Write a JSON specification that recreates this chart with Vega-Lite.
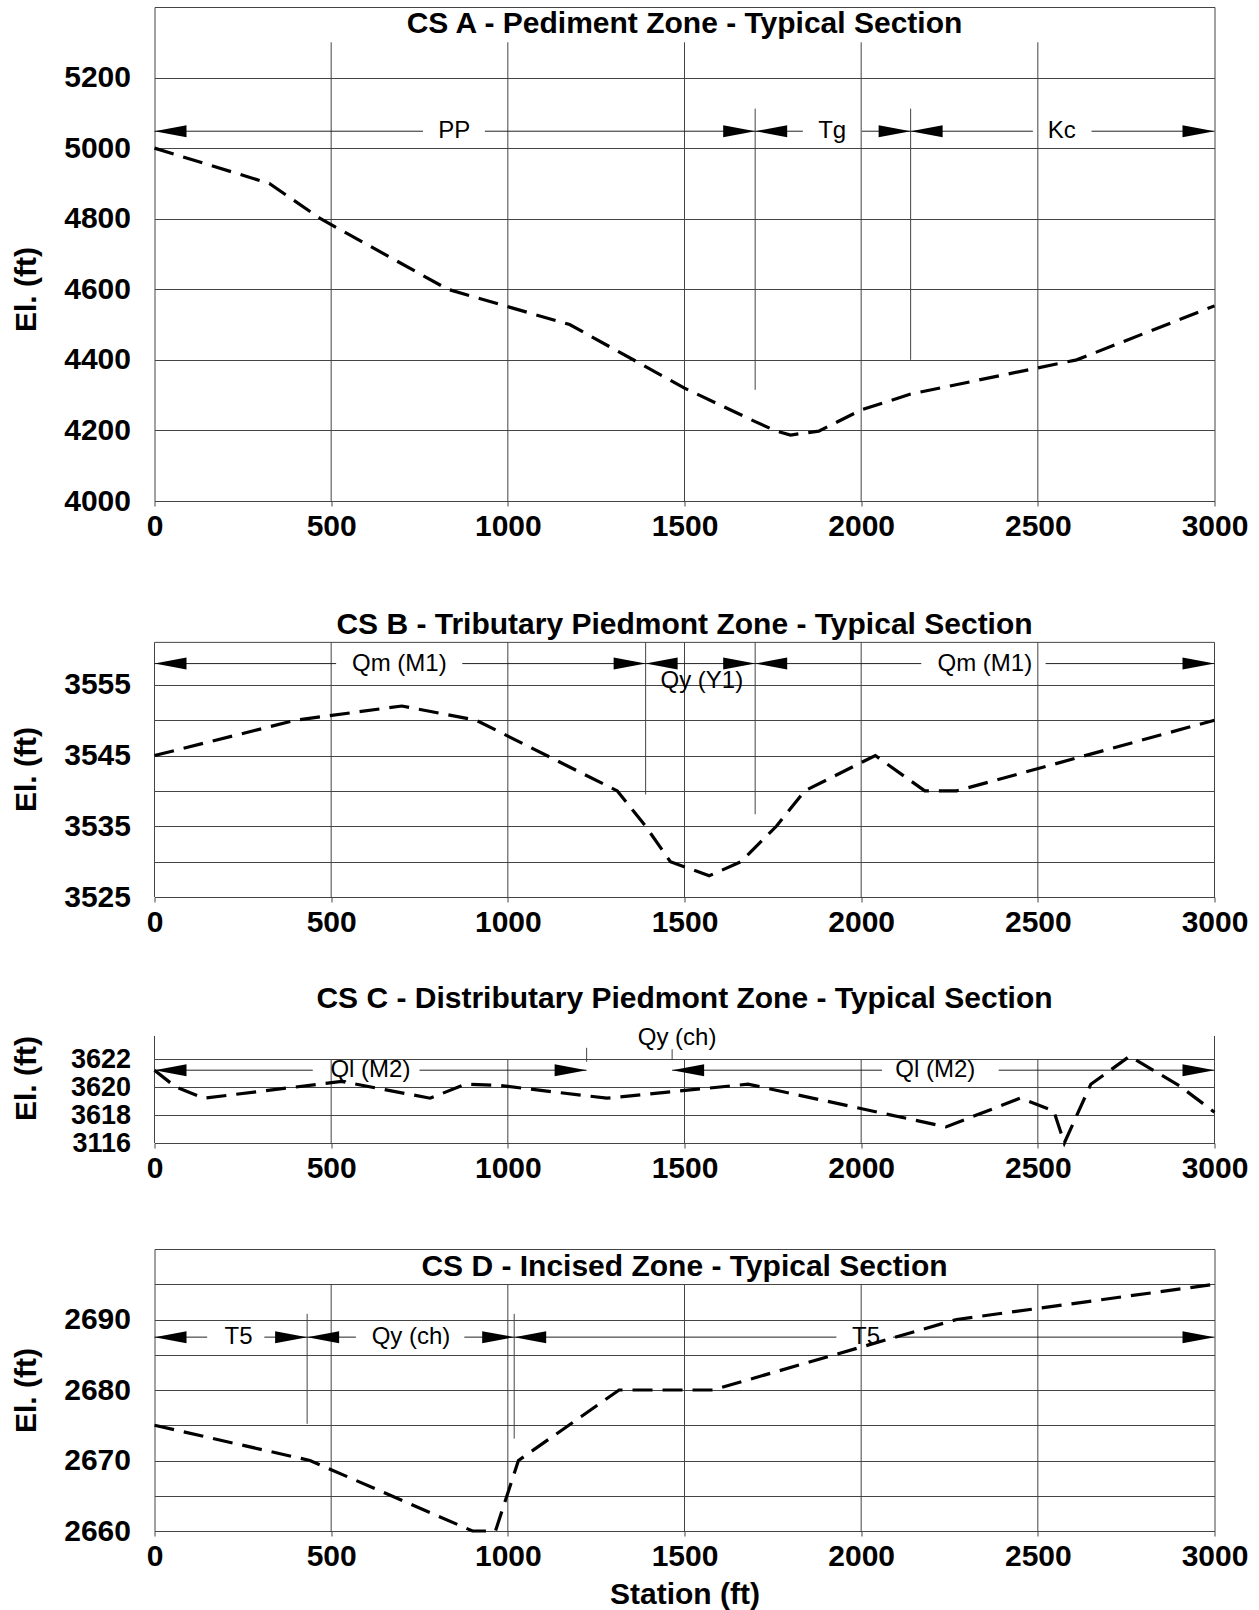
{
  "$schema": "https://vega.github.io/schema/vega-lite/v6.json",
  "padding": {"left": 10.5, "top": 6, "right": 8, "bottom": 4},
  "background": "white",
  "spacing": 106,
  "bounds": "flush",
  "config": {
    "font": "Liberation Sans",
    "view": {"stroke": "#444", "strokeWidth": 1},
    "axis": {
      "labelFont": "Liberation Sans", "labelFontSize": 30, "labelFontWeight": "bold", "labelColor": "#000",
      "titleFont": "Liberation Sans", "titleFontSize": 30, "titleFontWeight": "bold", "titleColor": "#000",
      "labelFlush": false, "labelOverlap": false, "labelBound": false,
      "domain": false, "gridColor": "#444", "gridOpacity": 1, "gridWidth": 1,
      "tickColor": "#444", "tickWidth": 1
    },
    "axisX": {"grid": false, "ticks": true, "tickSize": 5, "labelPadding": 5, "titlePadding": 8},
    "axisY": {"grid": true, "ticks": false, "tickSize": 0, "labelPadding": 24},
    "text": {"font": "Liberation Sans"}
  },
  "vconcat": [
    {
      "width": 1060, "height": 494,
      "layer": [
        {"data": {"values": [{"station": 500}, {"station": 1000}, {"station": 1500}, {"station": 2000}, {"station": 2500}]},
         "mark": {"type": "rule", "color": "#444", "strokeWidth": 1},
         "encoding": {"x": {"field": "station", "type": "quantitative"}, "y": {"datum": 4000}, "y2": {"datum": 5300}}},
        {"data": {"values": [{"station": 1700, "elev": 4315, "elev2": 5112}, {"station": 2140, "elev": 4400, "elev2": 5112}]},
         "mark": {"type": "rule", "color": "#444", "strokeWidth": 1},
         "encoding": {"x": {"field": "station", "type": "quantitative"}, "y": {"field": "elev", "type": "quantitative"}, "y2": {"field": "elev2"}}},
        {"data": {"values": [{"station": 0, "station2": 760, "elev": 5048}, {"station": 935, "station2": 1835, "elev": 5048}, {"station": 2002, "station2": 2486, "elev": 5048}, {"station": 2652, "station2": 3000, "elev": 5048}]},
         "mark": {"type": "rule", "color": "#222", "strokeWidth": 1},
         "encoding": {"x": {"field": "station", "type": "quantitative"}, "x2": {"field": "station2"}, "y": {"field": "elev", "type": "quantitative"}}},
        {"data": {"values": [{"station": 0, "elev": 5048, "dir": "L"}, {"station": 1700, "elev": 5048, "dir": "R"}, {"station": 1700, "elev": 5048, "dir": "L"}, {"station": 2140, "elev": 5048, "dir": "R"}, {"station": 2140, "elev": 5048, "dir": "L"}, {"station": 3000, "elev": 5048, "dir": "R"}]},
         "mark": {"type": "point", "filled": true, "color": "#000", "size": 1024, "opacity": 1, "strokeWidth": 0},
         "encoding": {"x": {"field": "station", "type": "quantitative"}, "y": {"field": "elev", "type": "quantitative"},
           "shape": {"field": "dir", "type": "nominal", "scale": {"domain": ["L", "R"], "range": ["M0,0L2,-0.375L2,0.375Z", "M0,0L-2,-0.375L-2,0.375Z"]}, "legend": null}}},
        {"data": {"values": [{"station": 848, "elev": 5048, "text": "PP"}, {"station": 1918, "elev": 5048, "text": "Tg"}, {"station": 2568, "elev": 5048, "text": "Kc"}]},
         "mark": {"type": "text", "fontSize": 24, "baseline": "middle", "align": "center", "color": "#000"},
         "encoding": {"x": {"field": "station", "type": "quantitative"}, "y": {"field": "elev", "type": "quantitative"}, "text": {"field": "text"}}},
        {"data": {"values": [{}]},
         "mark": {"type": "text", "fontSize": 30, "fontWeight": "bold", "baseline": "middle", "align": "center", "color": "#000"},
         "encoding": {"x": {"datum": 1500}, "y": {"datum": 5352}, "text": {"value": "CS A - Pediment Zone - Typical Section"}}},
        {"data": {"values": [{"station": 0, "elev": 5000}, {"station": 325, "elev": 4900}, {"station": 470, "elev": 4800}, {"station": 830, "elev": 4600}, {"station": 1175, "elev": 4500}, {"station": 1500, "elev": 4320}, {"station": 1700, "elev": 4225}, {"station": 1760, "elev": 4198}, {"station": 1800, "elev": 4187}, {"station": 1880, "elev": 4198}, {"station": 2000, "elev": 4258}, {"station": 2140, "elev": 4303}, {"station": 2610, "elev": 4400}, {"station": 3000, "elev": 4553}]},
         "mark": {"type": "line", "color": "#000", "strokeWidth": 3.2, "strokeDash": [20, 10]},
         "encoding": {
           "x": {"field": "station", "type": "quantitative", "scale": {"domain": [0, 3000], "nice": false, "zero": false},
                 "axis": {"values": [0, 500, 1000, 1500, 2000, 2500, 3000], "format": "d", "title": null}},
           "y": {"field": "elev", "type": "quantitative", "scale": {"domain": [4000, 5400], "nice": false, "zero": false},
                 "axis": {"values": [4000, 4100, 4200, 4300, 4400, 4500, 4600, 4700, 4800, 4900, 5000, 5100, 5200, 5300], "format": "d",
                          "labelExpr": "datum.value % 200 == 0 && datum.value <= 5200 ? datum.label : ''",
                          "title": "El. (ft)", "titleX": -128, "titleY": 282, "titleAlign": "center", "titleBaseline": "middle", "titleAngle": -90}}}}
      ]
    },
    {
      "width": 1060, "height": 290,
      "view": {"stroke": null},
      "layer": [
        {"data": {"values": [{"station": 0}, {"station": 500}, {"station": 1000}, {"station": 1500}, {"station": 2000}, {"station": 2500}, {"station": 3000}]},
         "mark": {"type": "rule", "color": "#444", "strokeWidth": 1},
         "encoding": {"x": {"field": "station", "type": "quantitative"}, "y": {"datum": 3525}, "y2": {"datum": 3561}}},
        {"data": {"values": [{}]},
         "mark": {"type": "rule", "color": "#444", "strokeWidth": 1},
         "encoding": {"x": {"datum": 0}, "x2": {"datum": 3000}, "y": {"datum": 3561}}},
        {"data": {"values": [{"station": 1390, "elev": 3539.5, "elev2": 3561}, {"station": 1700, "elev": 3536.7, "elev2": 3561}]},
         "mark": {"type": "rule", "color": "#444", "strokeWidth": 1},
         "encoding": {"x": {"field": "station", "type": "quantitative"}, "y": {"field": "elev", "type": "quantitative"}, "y2": {"field": "elev2"}}},
        {"data": {"values": [{"station": 0, "station2": 514, "elev": 3558}, {"station": 871, "station2": 2170, "elev": 3558}, {"station": 2522, "station2": 3000, "elev": 3558}]},
         "mark": {"type": "rule", "color": "#222", "strokeWidth": 1},
         "encoding": {"x": {"field": "station", "type": "quantitative"}, "x2": {"field": "station2"}, "y": {"field": "elev", "type": "quantitative"}}},
        {"data": {"values": [{"station": 0, "elev": 3558, "dir": "L"}, {"station": 1390, "elev": 3558, "dir": "R"}, {"station": 1390, "elev": 3558, "dir": "L"}, {"station": 1700, "elev": 3558, "dir": "R"}, {"station": 1700, "elev": 3558, "dir": "L"}, {"station": 3000, "elev": 3558, "dir": "R"}]},
         "mark": {"type": "point", "filled": true, "color": "#000", "size": 1024, "opacity": 1, "strokeWidth": 0},
         "encoding": {"x": {"field": "station", "type": "quantitative"}, "y": {"field": "elev", "type": "quantitative"},
           "shape": {"field": "dir", "type": "nominal", "scale": {"domain": ["L", "R"], "range": ["M0,0L2,-0.375L2,0.375Z", "M0,0L-2,-0.375L-2,0.375Z"]}, "legend": null}}},
        {"data": {"values": [{"station": 693, "elev": 3558, "text": "Qm (M1)"}, {"station": 1549, "elev": 3555.5, "text": "Qy (Y1)"}, {"station": 2350, "elev": 3558, "text": "Qm (M1)"}]},
         "mark": {"type": "text", "fontSize": 24, "baseline": "middle", "align": "center", "color": "#000"},
         "encoding": {"x": {"field": "station", "type": "quantitative"}, "y": {"field": "elev", "type": "quantitative"}, "text": {"field": "text"}}},
        {"data": {"values": [{}]},
         "mark": {"type": "text", "fontSize": 30, "fontWeight": "bold", "baseline": "middle", "align": "center", "color": "#000"},
         "encoding": {"x": {"datum": 1500}, "y": {"datum": 3563.4}, "text": {"value": "CS B - Tributary Piedmont Zone - Typical Section"}}},
        {"data": {"values": [{"station": 0, "elev": 3545}, {"station": 400, "elev": 3550}, {"station": 700, "elev": 3552}, {"station": 910, "elev": 3550}, {"station": 1310, "elev": 3540}, {"station": 1390, "elev": 3535}, {"station": 1460, "elev": 3530}, {"station": 1570, "elev": 3528}, {"station": 1660, "elev": 3530}, {"station": 1760, "elev": 3535}, {"station": 1840, "elev": 3540}, {"station": 2040, "elev": 3545}, {"station": 2180, "elev": 3540}, {"station": 2270, "elev": 3540}, {"station": 3000, "elev": 3550}]},
         "mark": {"type": "line", "color": "#000", "strokeWidth": 3.2, "strokeDash": [20, 10]},
         "encoding": {
           "x": {"field": "station", "type": "quantitative", "scale": {"domain": [0, 3000], "nice": false, "zero": false},
                 "axis": {"values": [0, 500, 1000, 1500, 2000, 2500, 3000], "format": "d", "title": null}},
           "y": {"field": "elev", "type": "quantitative", "scale": {"domain": [3525, 3566], "nice": false, "zero": false},
                 "axis": {"values": [3525, 3530, 3535, 3540, 3545, 3550, 3555], "format": "d",
                          "labelExpr": "(datum.value - 3525) % 10 == 0 ? datum.label : ''",
                          "title": "El. (ft)", "titleX": -128, "titleY": 162, "titleAlign": "center", "titleBaseline": "middle", "titleAngle": -90}}}}
      ]
    },
    {
      "width": 1060, "height": 140,
      "view": {"stroke": null},
      "layer": [
        {"data": {"values": [{"station": 500}, {"station": 1000}, {"station": 1500}, {"station": 2000}, {"station": 2500}]},
         "mark": {"type": "rule", "color": "#444", "strokeWidth": 1},
         "encoding": {"x": {"field": "station", "type": "quantitative"}, "y": {"datum": 3616}, "y2": {"datum": 3622}}},
        {"data": {"values": [{"station": 0}, {"station": 3000}]},
         "mark": {"type": "rule", "color": "#444", "strokeWidth": 1},
         "encoding": {"x": {"field": "station", "type": "quantitative"}, "y": {"datum": 3616}, "y2": {"datum": 3623.65}}},
        {"data": {"values": [{"station": 1223, "elev": 3621.8, "elev2": 3622.8}, {"station": 1465, "elev": 3621.95, "elev2": 3622.7}]},
         "mark": {"type": "rule", "color": "#444", "strokeWidth": 1},
         "encoding": {"x": {"field": "station", "type": "quantitative"}, "y": {"field": "elev", "type": "quantitative"}, "y2": {"field": "elev2"}}},
        {"data": {"values": [{"station": 0, "station2": 448, "elev": 3621.2}, {"station": 750, "station2": 1223, "elev": 3621.2}, {"station": 1465, "station2": 2059, "elev": 3621.2}, {"station": 2389, "station2": 3000, "elev": 3621.2}]},
         "mark": {"type": "rule", "color": "#222", "strokeWidth": 1},
         "encoding": {"x": {"field": "station", "type": "quantitative"}, "x2": {"field": "station2"}, "y": {"field": "elev", "type": "quantitative"}}},
        {"data": {"values": [{"station": 0, "elev": 3621.2, "dir": "L"}, {"station": 1223, "elev": 3621.2, "dir": "R"}, {"station": 1465, "elev": 3621.2, "dir": "L"}, {"station": 3000, "elev": 3621.2, "dir": "R"}]},
         "mark": {"type": "point", "filled": true, "color": "#000", "size": 1024, "opacity": 1, "strokeWidth": 0},
         "encoding": {"x": {"field": "station", "type": "quantitative"}, "y": {"field": "elev", "type": "quantitative"},
           "shape": {"field": "dir", "type": "nominal", "scale": {"domain": ["L", "R"], "range": ["M0,0L2,-0.375L2,0.375Z", "M0,0L-2,-0.375L-2,0.375Z"]}, "legend": null}}},
        {"data": {"values": [{"station": 611, "elev": 3621.2, "text": "Ql (M2)"}, {"station": 1479, "elev": 3623.5, "text": "Qy (ch)"}, {"station": 2210, "elev": 3621.2, "text": "Ql (M2)"}]},
         "mark": {"type": "text", "fontSize": 24, "baseline": "middle", "align": "center", "color": "#000"},
         "encoding": {"x": {"field": "station", "type": "quantitative"}, "y": {"field": "elev", "type": "quantitative"}, "text": {"field": "text"}}},
        {"data": {"values": [{}]},
         "mark": {"type": "text", "fontSize": 30, "fontWeight": "bold", "baseline": "middle", "align": "center", "color": "#000"},
         "encoding": {"x": {"datum": 1500}, "y": {"datum": 3626.3}, "text": {"value": "CS C - Distributary Piedmont Zone - Typical Section"}}},
        {"data": {"values": [{"station": 0, "elev": 3621.2}, {"station": 60, "elev": 3620}, {"station": 140, "elev": 3619.2}, {"station": 530, "elev": 3620.4}, {"station": 780, "elev": 3619.2}, {"station": 880, "elev": 3620.2}, {"station": 980, "elev": 3620.1}, {"station": 1280, "elev": 3619.2}, {"station": 1680, "elev": 3620.2}, {"station": 2240, "elev": 3617.15}, {"station": 2450, "elev": 3619.2}, {"station": 2545, "elev": 3618.3}, {"station": 2575, "elev": 3616}, {"station": 2650, "elev": 3620.2}, {"station": 2760, "elev": 3622.2}, {"station": 2900, "elev": 3620.1}, {"station": 3000, "elev": 3618.2}]},
         "mark": {"type": "line", "color": "#000", "strokeWidth": 3.2, "strokeDash": [20, 10]},
         "encoding": {
           "x": {"field": "station", "type": "quantitative", "scale": {"domain": [0, 3000], "nice": false, "zero": false},
                 "axis": {"values": [0, 500, 1000, 1500, 2000, 2500, 3000], "format": "d", "title": null}},
           "y": {"field": "elev", "type": "quantitative", "scale": {"domain": [3616, 3626], "nice": false, "zero": false},
                 "axis": {"values": [3616, 3618, 3620, 3622], "format": "d", "labelFontSize": 27,
                          "labelExpr": "datum.value == 3616 ? '3116' : datum.label",
                          "title": "El. (ft)", "titleX": -128, "titleY": 75, "titleAlign": "center", "titleBaseline": "middle", "titleAngle": -90}}}}
      ]
    },
    {
      "width": 1060, "height": 282,
      "layer": [
        {"data": {"values": [{"station": 500}, {"station": 1000}, {"station": 1500}, {"station": 2000}, {"station": 2500}]},
         "mark": {"type": "rule", "color": "#444", "strokeWidth": 1},
         "encoding": {"x": {"field": "station", "type": "quantitative"}, "y": {"datum": 2660}, "y2": {"datum": 2695}}},
        {"data": {"values": [{"station": 432, "elev": 2675.2, "elev2": 2690.8}, {"station": 1018, "elev": 2673.1, "elev2": 2690.8}]},
         "mark": {"type": "rule", "color": "#444", "strokeWidth": 1},
         "encoding": {"x": {"field": "station", "type": "quantitative"}, "y": {"field": "elev", "type": "quantitative"}, "y2": {"field": "elev2"}}},
        {"data": {"values": [{"station": 0, "station2": 149, "elev": 2687.5}, {"station": 311, "station2": 570, "elev": 2687.5}, {"station": 877, "station2": 1930, "elev": 2687.5}, {"station": 2090, "station2": 3000, "elev": 2687.5}]},
         "mark": {"type": "rule", "color": "#222", "strokeWidth": 1},
         "encoding": {"x": {"field": "station", "type": "quantitative"}, "x2": {"field": "station2"}, "y": {"field": "elev", "type": "quantitative"}}},
        {"data": {"values": [{"station": 0, "elev": 2687.5, "dir": "L"}, {"station": 432, "elev": 2687.5, "dir": "R"}, {"station": 432, "elev": 2687.5, "dir": "L"}, {"station": 1018, "elev": 2687.5, "dir": "R"}, {"station": 1018, "elev": 2687.5, "dir": "L"}, {"station": 3000, "elev": 2687.5, "dir": "R"}]},
         "mark": {"type": "point", "filled": true, "color": "#000", "size": 1024, "opacity": 1, "strokeWidth": 0},
         "encoding": {"x": {"field": "station", "type": "quantitative"}, "y": {"field": "elev", "type": "quantitative"},
           "shape": {"field": "dir", "type": "nominal", "scale": {"domain": ["L", "R"], "range": ["M0,0L2,-0.375L2,0.375Z", "M0,0L-2,-0.375L-2,0.375Z"]}, "legend": null}}},
        {"data": {"values": [{"station": 238, "elev": 2687.5, "text": "T5"}, {"station": 726, "elev": 2687.5, "text": "Qy (ch)"}, {"station": 2014, "elev": 2687.5, "text": "T5"}]},
         "mark": {"type": "text", "fontSize": 24, "baseline": "middle", "align": "center", "color": "#000"},
         "encoding": {"x": {"field": "station", "type": "quantitative"}, "y": {"field": "elev", "type": "quantitative"}, "text": {"field": "text"}}},
        {"data": {"values": [{}]},
         "mark": {"type": "text", "fontSize": 30, "fontWeight": "bold", "baseline": "middle", "align": "center", "color": "#000"},
         "encoding": {"x": {"datum": 1500}, "y": {"datum": 2697.5}, "text": {"value": "CS D - Incised Zone - Typical Section"}}},
        {"data": {"values": [{"station": 0, "elev": 2675}, {"station": 440, "elev": 2670}, {"station": 900, "elev": 2660}, {"station": 965, "elev": 2660}, {"station": 1030, "elev": 2670}, {"station": 1315, "elev": 2680}, {"station": 1580, "elev": 2680}, {"station": 2270, "elev": 2690}, {"station": 3000, "elev": 2695}]},
         "mark": {"type": "line", "color": "#000", "strokeWidth": 3.2, "strokeDash": [20, 10]},
         "encoding": {
           "x": {"field": "station", "type": "quantitative", "scale": {"domain": [0, 3000], "nice": false, "zero": false},
                 "axis": {"values": [0, 500, 1000, 1500, 2000, 2500, 3000], "format": "d", "title": "Station (ft)"}},
           "y": {"field": "elev", "type": "quantitative", "scale": {"domain": [2660, 2700], "nice": false, "zero": false},
                 "axis": {"values": [2660, 2665, 2670, 2675, 2680, 2685, 2690, 2695], "format": "d",
                          "labelExpr": "datum.value % 10 == 0 ? datum.label : ''",
                          "title": "El. (ft)", "titleX": -128, "titleY": 141, "titleAlign": "center", "titleBaseline": "middle", "titleAngle": -90}}}}
      ]
    }
  ]
}
